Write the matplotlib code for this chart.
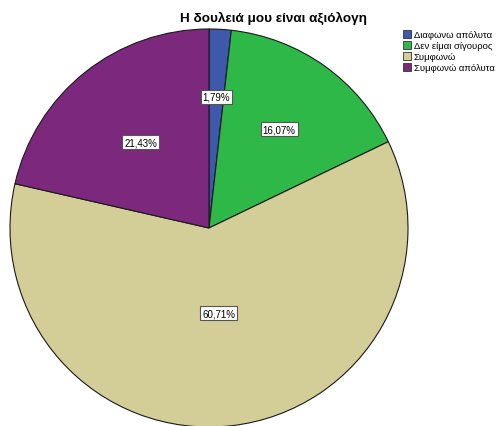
import numpy as np
import matplotlib.pyplot as plt

plt.rcParams['font.family'] = ['Liberation Sans', 'DejaVu Sans']

categories = ["Διαφωνω απόλυτα", "Δεν είμαι σίγουρος", "Συμφωνώ", "Συμφωνώ απόλυτα"]
shares = [1.79, 16.07, 60.71, 21.43]
pct_labels = ["1,79%", "16,07%", "60,71%", "21,43%"]
colors = ["#3E58AC", "#2EB848", "#D3CE97", "#7C287D"]
label_radius = [0.66, 0.61, 0.43, 0.55]

W, H = 503, 427
fig = plt.figure(figsize=(W / 100, H / 100), dpi=100)
fig.patch.set_facecolor("white")

cx, cy, r = 209, 229, 199
ax = fig.add_axes([(cx - r) / W, (H - cy - r) / H, 2 * r / W, 2 * r / H])

wedges, _ = ax.pie(shares, colors=colors, startangle=90, counterclock=False,
                   radius=1, wedgeprops=dict(edgecolor="#1a1a1a", linewidth=0.8))
# pie() resets the limits, so pin them afterwards
ax.set_xlim(-1, 1)
ax.set_ylim(-1, 1)
ax.set_aspect("equal")
ax.axis("off")

for w, txt, rr in zip(wedges, pct_labels, label_radius):
    mid = np.deg2rad((w.theta1 + w.theta2) / 2)
    ax.text(rr * np.cos(mid), rr * np.sin(mid), txt, ha="center", va="center",
            fontsize=7, color="black",
            bbox=dict(facecolor="white", edgecolor="#555555", linewidth=0.8,
                      boxstyle="square,pad=0.2"))

fig.text(274 / W, 1 - 18 / H, "Η δουλειά μου είναι αξιόλογη", ha="center",
         va="center", fontsize=9.7, fontweight="bold")

leg = fig.legend(wedges, categories, loc="upper left",
                 bbox_to_anchor=(403 / W, 1 - 31 / H), frameon=False,
                 fontsize=6.8, handlelength=0.85, handleheight=0.85,
                 handletextpad=0.3, labelspacing=0.22, borderpad=0,
                 borderaxespad=0)
for h in leg.legend_handles:
    h.set_edgecolor("#333333")
    h.set_linewidth(0.6)

fig.savefig("out.png", dpi=100)
